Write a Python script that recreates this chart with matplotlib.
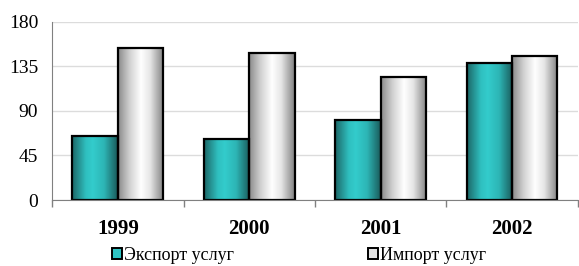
import numpy as np
import matplotlib.pyplot as plt
from matplotlib.colors import LinearSegmentedColormap
from matplotlib.patches import Rectangle

years = ["1999", "2000", "2001", "2002"]
export_services = [65, 62, 81, 138]
import_services = [154, 149, 124, 145]
series_names = ["Экспорт услуг", "Импорт услуг"]

plt.rcParams["font.family"] = ["Liberation Serif", "DejaVu Serif"]

teal_cmap = LinearSegmentedColormap.from_list(
    "teal", [(0.0, "#1c6666"), (0.3, "#2fbfbf"), (0.45, "#33cccc"),
             (0.7, "#2db5b5"), (1.0, "#1a5a5a")])
silver_cmap = LinearSegmentedColormap.from_list(
    "silver", [(0.0, "#8a8a8a"), (0.25, "#d0d0d0"), (0.5, "#ffffff"),
               (0.7, "#e6e6e6"), (1.0, "#808080")])

fig = plt.figure(figsize=(5.79, 2.66), dpi=100)
ax = fig.add_axes([0.09, 0.248, 0.908, 0.67])

x = np.arange(len(years))
width = 0.345
grad = np.linspace(0, 1, 256).reshape(1, -1)


def gradient_bars(xpos, values, cmap):
    bars = ax.bar(xpos, values, width, facecolor="none", edgecolor="black",
                  linewidth=1.6, zorder=3)
    for bar in bars:
        x0 = bar.get_x()
        im = ax.imshow(grad, cmap=cmap, aspect="auto", zorder=2,
                       extent=[x0, x0 + bar.get_width(), 0, bar.get_height()])
        im.set_clip_path(bar)
    return bars


gradient_bars(x - width / 2, export_services, teal_cmap)
gradient_bars(x + width / 2, import_services, silver_cmap)

ax.set_xlim(-0.5, len(years) - 0.5)
ax.set_ylim(0, 180)
ax.set_yticks([0, 45, 90, 135, 180])
ax.yaxis.grid(True, color="#dcdcdc", linewidth=1)
ax.set_axisbelow(True)

ax.set_xticks(x)
ax.set_xticklabels(years, fontweight="bold", fontsize=15)
ax.set_xticks(np.arange(len(years) + 1) - 0.5, minor=True)
ax.tick_params(axis="x", which="major", length=0, pad=14)
ax.tick_params(axis="x", which="minor", length=5, color="#808080", width=1)
ax.tick_params(axis="y", length=0, labelsize=14, pad=10)

for side in ["top", "right"]:
    ax.spines[side].set_visible(False)
ax.spines["left"].set_color("#808080")
ax.spines["bottom"].set_color("#808080")
ax.spines["bottom"].set_zorder(4)

handles = [
    Rectangle((0, 0), 1, 1, facecolor="#2ec4c4", edgecolor="black", linewidth=1.4),
    Rectangle((0, 0), 1, 1, facecolor="#e4e4e4", edgecolor="black", linewidth=1.4),
]
fig.legend(handles, series_names, loc="lower center", bbox_to_anchor=(0.517, -0.053),
           ncol=2, frameon=False, fontsize=13, handlelength=0.55, handleheight=0.55,
           handletextpad=0.12, columnspacing=7.4)

fig.savefig("out.png", dpi=100)
